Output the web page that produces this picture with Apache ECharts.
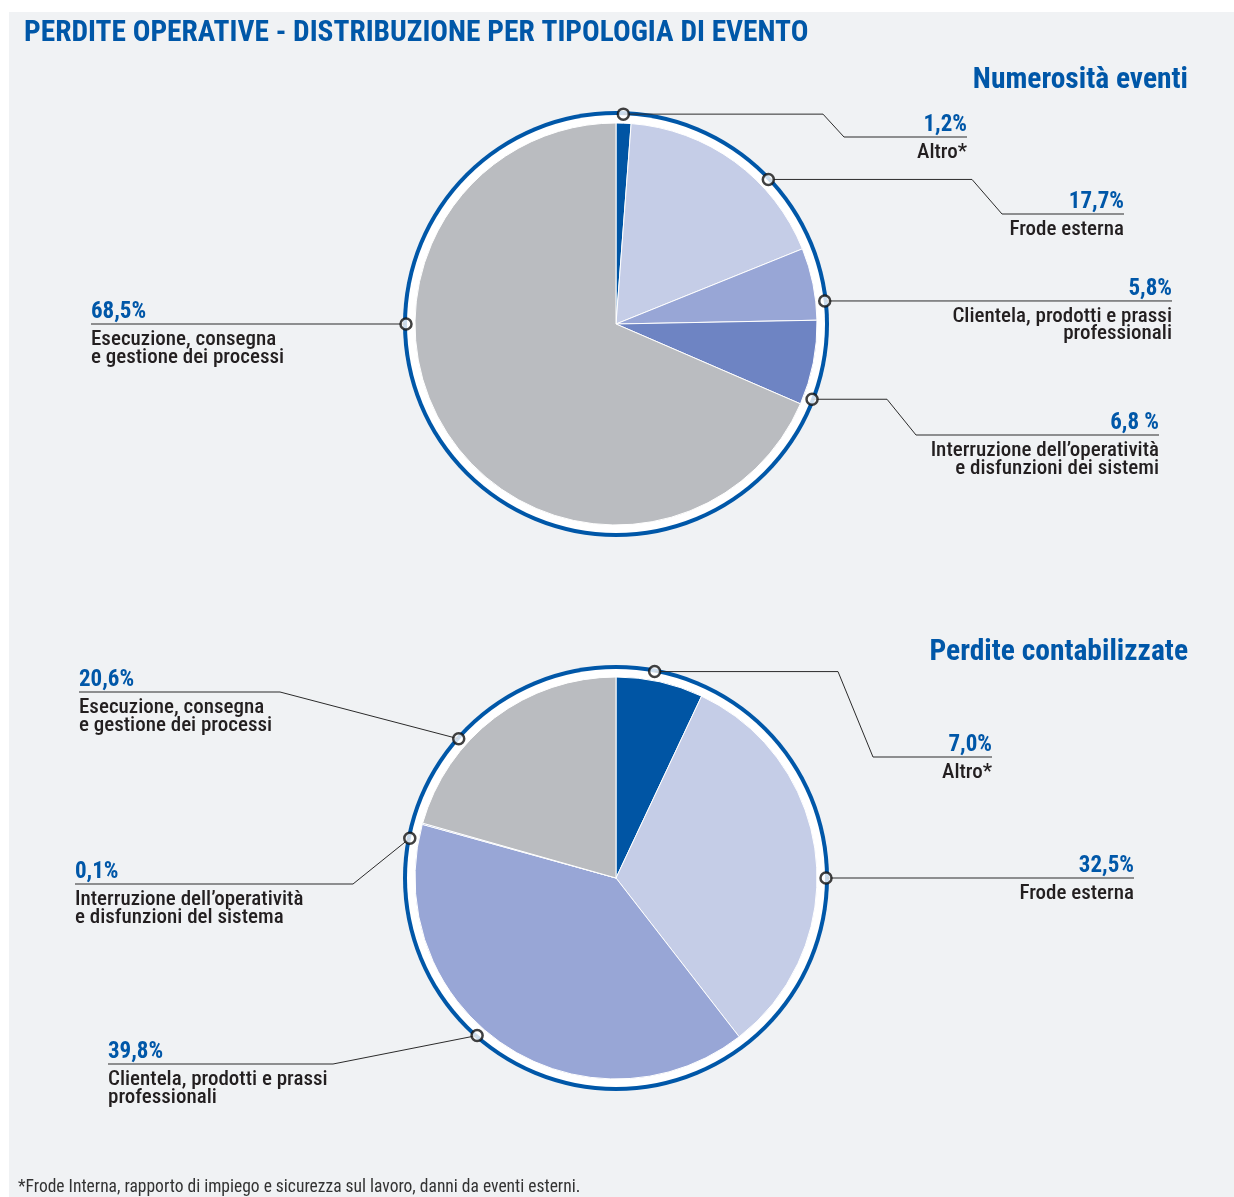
<!DOCTYPE html>
<html>
<head>
<meta charset="utf-8">
<script src="https://cdn.jsdelivr.net/npm/echarts@6/dist/echarts.min.js"></script>
<style>
  html, body { margin: 0; padding: 0; background: #fff; }
  #chart { width: 1234px; height: 1197px; }
</style>
</head>
<body>
<div id="chart"></div>
<script>
// categories and values
var eventNames = ['Altro*', 'Frode esterna', 'Clientela, prodotti e prassi\nprofessionali',
  'Interruzione dell’operatività\ne disfunzioni dei sistemi', 'Esecuzione, consegna\ne gestione dei processi'];
var eventShare = [1.2, 17.7, 5.8, 6.8, 68.5];
var eventLabels = ['1,2%', '17,7%', '5,8%', '6,8 %', '68,5%'];

var lossNames = ['Altro*', 'Frode esterna', 'Clientela, prodotti e prassi\nprofessionali',
  'Interruzione dell’operatività\ne disfunzioni del sistema', 'Esecuzione, consegna\ne gestione dei processi'];
var lossShare = [7.0, 32.5, 39.8, 0.1, 20.6];
var lossLabels = ['7,0%', '32,5%', '39,8%', '0,1%', '20,6%'];

// where the leader lines leave the ring (degrees, clockwise from 12 o'clock)
var eventMarkerAngle = [2, 46.5, 83.7, 111, 270];
var lossMarkerAngle = [10.6, 90, 221.4, 280.9, 311.5];

var sliceColors = ['#0055a4', '#c5cde7', '#98a6d6', '#6e84c3', '#babcc0'];

var BLUE = '#0057a8';
var INK = '#231f20';
var FONT = '"Roboto Condensed", "Liberation Sans Narrow", "DejaVu Sans Condensed", Roboto, sans-serif';

var topCenter = [616, 324];
var botCenter = [616, 878];
var ringR = 210;

// label placement (x of elbows, y of underline, text anchor)
var eventLayout = [
  { via: [[823, null], [844, 137]], end: [967, 137], align: 'right' },
  { via: [[972, null], [1002, 214]], end: [1124, 214], align: 'right' },
  { via: [], end: [1172, null], align: 'right' },
  { via: [[887, null], [916, 435]], end: [1159, 435], align: 'right' },
  { via: [], end: [91, null], align: 'left' }
];
var lossLayout = [
  { via: [[838, null], [873, 757]], end: [992, 757], align: 'right' },
  { via: [], end: [1134, null], align: 'right' },
  { via: [[333, 1064]], end: [108, 1064], align: 'left' },
  { via: [[353, 884]], end: [75, 884], align: 'left' },
  { via: [[280, 692]], end: [79, 692], align: 'left' }
];

function ringPoint(center, angle) {
  var a = angle * Math.PI / 180;
  return [center[0] + ringR * Math.sin(a), center[1] - ringR * Math.cos(a)];
}

function pieSeries(center, values, names) {
  return [
    { type: 'pie', center: center, radius: [0, 213], silent: true, z: 1,
      label: { show: false }, labelLine: { show: false },
      data: [{ value: 1, itemStyle: { color: BLUE } }] },
    { type: 'pie', center: center, radius: [0, 209], silent: true, z: 1,
      label: { show: false }, labelLine: { show: false },
      data: [{ value: 1, itemStyle: { color: '#ffffff' } }] },
    { type: 'pie', center: center, radius: [0, 201], startAngle: 90, clockwise: true,
      silent: true, z: 2, avoidLabelOverlap: false,
      label: { show: false }, labelLine: { show: false },
      itemStyle: { borderColor: '#ffffff', borderWidth: 1 },
      data: values.map(function (v, i) {
        return { value: v, name: names[i], itemStyle: { color: sliceColors[i] } };
      }) }
  ];
}

function labelGraphics(center, angles, layout, labels, names) {
  var out = [];
  layout.forEach(function (l, i) {
    var m = ringPoint(center, angles[i]);
    var pts = [m];
    l.via.forEach(function (p) { pts.push([p[0], p[1] == null ? m[1] : p[1]]); });
    var lineY = l.end[1] == null ? m[1] : l.end[1];
    pts.push([l.end[0], lineY]);
    out.push({ type: 'polyline', z: 5, shape: { points: pts },
      style: { stroke: '#2b2b2b', lineWidth: 1, fill: null } });
    out.push({ type: 'text', z: 6, x: l.end[0], y: lineY - 12,
      style: { text: labels[i], fill: BLUE, font: 'bold 23px ' + FONT,
        align: l.align, verticalAlign: 'middle' } });
    out.push({ type: 'text', z: 6, x: l.end[0], y: lineY + 7,
      style: { text: names[i], fill: INK, font: '500 21px ' + FONT, lineHeight: 17.5,
        align: l.align, verticalAlign: 'top' } });
  });
  return out;
}

var chart = echarts.init(document.getElementById('chart'));

var graphics = [
  { type: 'rect', z: -10, shape: { x: 9, y: 12, width: 1225, height: 1185 }, style: { fill: '#f0f2f4' } },
  { type: 'text', z: 6, x: 24, y: 34,
    style: { text: 'PERDITE OPERATIVE - DISTRIBUZIONE PER TIPOLOGIA DI EVENTO', fill: BLUE,
      font: 'bold 29.4px ' + FONT, verticalAlign: 'middle' } },
  { type: 'text', z: 6, x: 1188, y: 81,
    style: { text: 'Numerosità eventi', fill: BLUE, font: 'bold 29.5px ' + FONT,
      align: 'right', verticalAlign: 'middle' } },
  { type: 'text', z: 6, x: 1188, y: 653,
    style: { text: 'Perdite contabilizzate', fill: BLUE, font: 'bold 29.5px ' + FONT,
      align: 'right', verticalAlign: 'middle' } },
  { type: 'text', z: 6, x: 18, y: 1188,
    style: { text: '*Frode Interna, rapporto di impiego e sicurezza sul lavoro, danni da eventi esterni.',
      fill: '#333333', font: '17.5px ' + FONT, verticalAlign: 'middle' } }
].concat(labelGraphics(topCenter, eventMarkerAngle, eventLayout, eventLabels, eventNames))
 .concat(labelGraphics(botCenter, lossMarkerAngle, lossLayout, lossLabels, lossNames));

var markerStyle = { color: '#ffffff', borderColor: '#111111', borderWidth: 2.5 };

chart.setOption({
  animation: false,
  polar: [
    { center: topCenter, radius: ringR },
    { center: botCenter, radius: ringR }
  ],
  angleAxis: [
    { polarIndex: 0, type: 'value', min: 0, max: 360, startAngle: 90, clockwise: true, show: false },
    { polarIndex: 1, type: 'value', min: 0, max: 360, startAngle: 90, clockwise: true, show: false }
  ],
  radiusAxis: [
    { polarIndex: 0, type: 'value', min: 0, max: 1, show: false },
    { polarIndex: 1, type: 'value', min: 0, max: 1, show: false }
  ],
  graphic: graphics,
  series: pieSeries(topCenter, eventShare, eventNames)
    .concat(pieSeries(botCenter, lossShare, lossNames))
    .concat([
      { type: 'scatter', coordinateSystem: 'polar', polarIndex: 0, z: 10, silent: true,
        symbol: 'circle', symbolSize: 11, itemStyle: markerStyle,
        data: eventMarkerAngle.map(function (a) { return [1, a]; }) },
      { type: 'scatter', coordinateSystem: 'polar', polarIndex: 1, z: 10, silent: true,
        symbol: 'circle', symbolSize: 11, itemStyle: markerStyle,
        data: lossMarkerAngle.map(function (a) { return [1, a]; }) }
    ])
});
</script>
</body>
</html>
